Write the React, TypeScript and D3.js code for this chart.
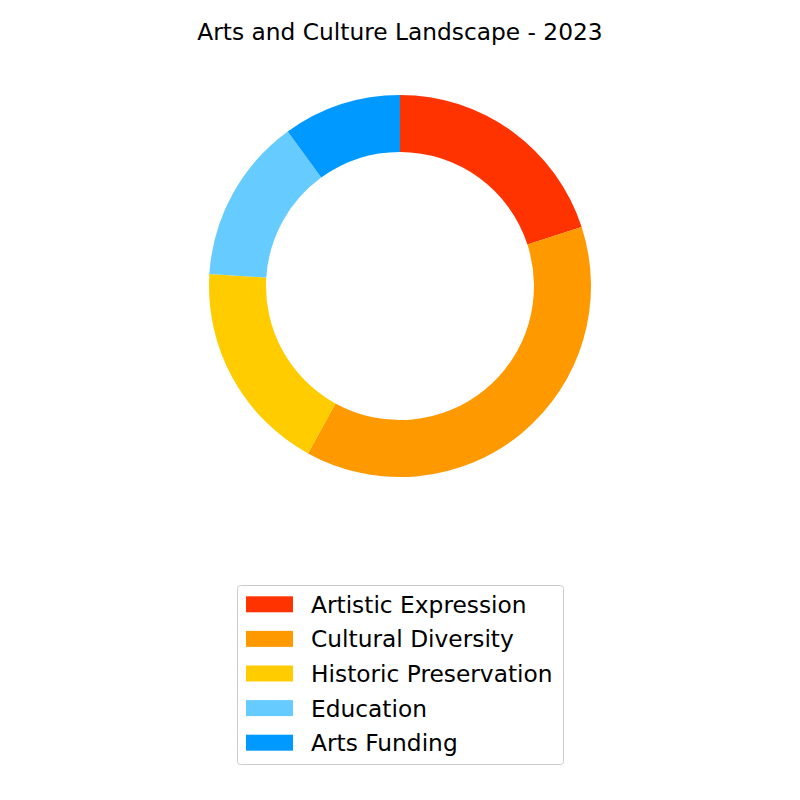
import { useMemo } from "react"
import * as d3 from "d3"

const categories = ["Artistic Expression", "Cultural Diversity", "Historic Preservation", "Education", "Arts Funding"]
const values = [20, 38, 18, 14, 10]
const colors = ["#FF3300", "#FF9900", "#FFCC00", "#66CCFF", "#0099FF"]

const W = 800, H = 800
const cx = 400, cy = 286, R = 191, r = 134

export default function App() {
  const arcs = useMemo(() => {
    const pie = d3.pie<number>().sort(null).value(d => d)
    return pie(values)
  }, [])
  const arc = d3.arc<d3.PieArcDatum<number>>().innerRadius(r).outerRadius(R)

  const legend = d3.scaleBand<number>().domain(d3.range(categories.length)).range([587, 760])

  return (
    <svg width={W} height={H} style={{ position: "absolute", left: 0, top: 0, fontFamily: "DejaVu Sans" }}>
      <rect width={W} height={H} fill="#fff" />
      <text x={400} y={31} textAnchor="middle" dominantBaseline="central" fontSize={23.3} fill="#000">
        Arts and Culture Landscape - 2023
      </text>
      <g transform={`translate(${cx},${cy})`}>
        {arcs.map((a, i) => (
          <path key={i} d={arc(a) ?? ""} fill={colors[i]} />
        ))}
      </g>
      <rect x={237.5} y={585.5} width={326} height={179} rx={3} fill="#fff" fillOpacity={0.8} stroke="#ccc" />
      {categories.map((c, i) => {
        const y = legend(i)! + legend.bandwidth() / 2
        return (
          <g key={c}>
            <rect x={246} y={y - 8} width={47} height={16} fill={colors[i]} />
            <text x={311} y={y} dominantBaseline="central" fontSize={23.3} fill="#000">{c}</text>
          </g>
        )
      })}
    </svg>
  )
}
